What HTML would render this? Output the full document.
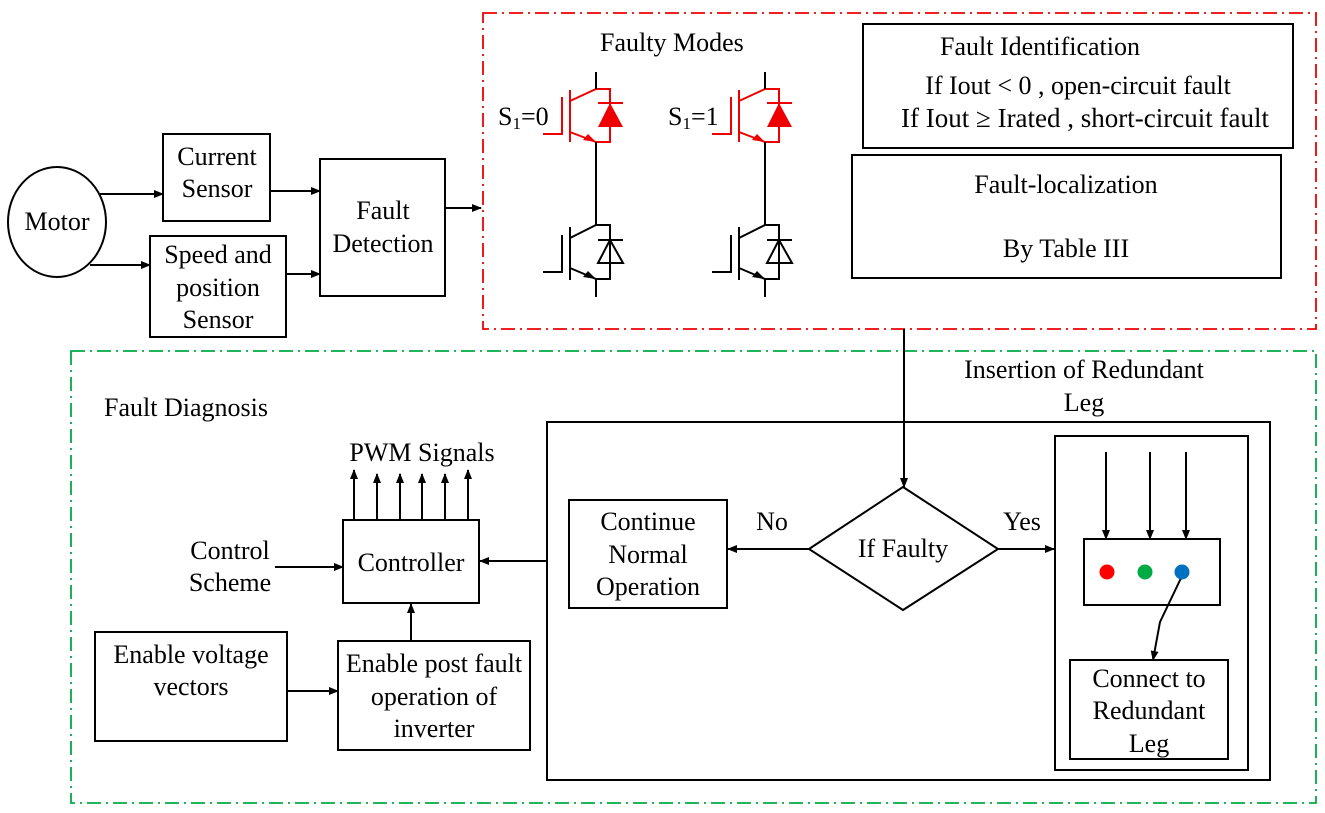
<!DOCTYPE html>
<html><head><style>
html,body{margin:0;padding:0;background:#fff;}
svg{display:block;}
text{font-family:"Liberation Serif",serif;fill:#000;}
</style></head><body>
<svg width="1325" height="813" viewBox="0 0 1325 813" xmlns="http://www.w3.org/2000/svg">
<defs>
<marker id="a" markerWidth="10" markerHeight="8" refX="9" refY="4" orient="auto" markerUnits="userSpaceOnUse">
<path d="M0,0 L10,4 L0,8 Z" fill="#000"/></marker>
</defs>
<rect x="483" y="13" width="833" height="316" fill="none" stroke="#e00" stroke-width="1.8" stroke-dasharray="14,5,2,5"/>
<rect x="71" y="351" width="1245" height="452" fill="none" stroke="#0a4" stroke-width="1.8" stroke-dasharray="14,5,2,5"/>

<g stroke="#000" stroke-width="2" fill="none">
<ellipse cx="57" cy="222" rx="49" ry="55"/>
<rect x="163" y="134" width="107" height="87"/>
<rect x="150" y="236" width="136" height="101"/>
<rect x="320" y="159" width="125" height="137"/>
<line x1="100" y1="194" x2="163" y2="194" marker-end="url(#a)"/>
<line x1="90" y1="265" x2="150" y2="265" marker-end="url(#a)"/>
<line x1="270" y1="191" x2="320" y2="191" marker-end="url(#a)"/>
<line x1="286" y1="274" x2="320" y2="274" marker-end="url(#a)"/>
<line x1="445" y1="208" x2="481" y2="208" marker-end="url(#a)"/>

<rect x="863" y="24" width="430" height="124"/>
<rect x="852" y="155" width="429" height="123"/>
<line x1="904" y1="329" x2="904" y2="487" marker-end="url(#a)"/>

<rect x="547" y="422" width="723" height="358"/>
<rect x="569" y="500" width="158" height="108"/>
<polygon points="809,549 903,487 998,549 903,610"/>
<line x1="809" y1="549" x2="728" y2="549" marker-end="url(#a)"/>
<line x1="998" y1="549" x2="1054" y2="549" marker-end="url(#a)"/>
<rect x="1055" y="436" width="193" height="334"/>
<rect x="1084" y="539" width="136" height="66"/>
<rect x="1070" y="660" width="158" height="99"/>
<line x1="1106" y1="452" x2="1106" y2="539" marker-end="url(#a)"/>
<line x1="1150" y1="452" x2="1150" y2="539" marker-end="url(#a)"/>
<line x1="1186" y1="452" x2="1186" y2="539" marker-end="url(#a)"/>
<polyline points="1182,576 1160,622 1153,660" marker-end="url(#a)"/>

<rect x="343" y="520" width="136" height="83"/>
<rect x="95" y="632" width="192" height="109"/>
<rect x="338" y="641" width="192" height="109"/>
<line x1="547" y1="561" x2="480" y2="561" marker-end="url(#a)"/>
<line x1="275" y1="567" x2="343" y2="567" marker-end="url(#a)"/>
<line x1="287" y1="691" x2="338" y2="691" marker-end="url(#a)"/>
<line x1="411" y1="641" x2="411" y2="604" marker-end="url(#a)"/>
<line x1="354" y1="520" x2="354" y2="470" marker-end="url(#a)"/>
<line x1="377" y1="520" x2="377" y2="474" marker-end="url(#a)"/>
<line x1="400" y1="520" x2="400" y2="474" marker-end="url(#a)"/>
<line x1="422" y1="520" x2="422" y2="474" marker-end="url(#a)"/>
<line x1="445" y1="520" x2="445" y2="474" marker-end="url(#a)"/>
<line x1="468" y1="520" x2="468" y2="470" marker-end="url(#a)"/>
</g>
<circle cx="1107" cy="572" r="7.5" fill="#f00"/>
<circle cx="1145" cy="572" r="7.5" fill="#0a4"/>
<circle cx="1182" cy="572" r="7.5" fill="#0070c0"/>

<g id="leg">
<g stroke="#e00" stroke-width="2" fill="none">
<polyline points="543,134 562,134 562,97"/>
<line x1="570" y1="90" x2="570" y2="142"/>
<polyline points="570,101 596,89 610,89 610,142 596,142 570,132"/>
<line x1="598" y1="103" x2="623" y2="103"/>
</g>
<polygon points="610,103 598,127 623,127" fill="#e00"/>
<polygon points="596,142 583,140 588,134" fill="#e00"/>
<line x1="596" y1="72" x2="596" y2="89" stroke="#000" stroke-width="2"/>
<line x1="596" y1="142" x2="596" y2="225" stroke="#000" stroke-width="2"/>
<g stroke="#000" stroke-width="2" fill="none">
<polyline points="543,272 562,272 562,235"/>
<line x1="570" y1="227" x2="570" y2="280"/>
<polyline points="570,238 596,225 610,225 610,279 596,279 570,268"/>
<line x1="598" y1="240" x2="623" y2="240"/>
<polygon points="610,240 598,263 623,263"/>
<line x1="596" y1="279" x2="596" y2="297"/>
</g>
<polygon points="596,279 583,277 588,271" fill="#000"/>
</g>
<use href="#leg" x="169" y="0"/>

<g font-size="26">
<text x="600" y="51">Faulty Modes</text>
<text x="498" y="125">S<tspan font-size="17" dy="4">1</tspan><tspan dy="-4">=0</tspan></text>
<text x="668" y="125">S<tspan font-size="17" dy="4">1</tspan><tspan dy="-4">=1</tspan></text>
<text x="940" y="55">Fault Identification</text>
<text x="1078" y="94" text-anchor="middle">If Iout &lt; 0 , open-circuit fault</text>
<text x="1085" y="127" text-anchor="middle" font-size="27">If Iout  ≥  Irated , short-circuit fault</text>
<text x="1066" y="193" text-anchor="middle">Fault-localization</text>
<text x="1066" y="257" text-anchor="middle">By Table III</text>
<text x="57" y="230" text-anchor="middle">Motor</text>
<text x="217" y="165" text-anchor="middle">Current</text>
<text x="217" y="197" text-anchor="middle">Sensor</text>
<text x="218" y="263" text-anchor="middle">Speed and</text>
<text x="218" y="296" text-anchor="middle">position</text>
<text x="218" y="328" text-anchor="middle">Sensor</text>
<text x="383" y="219" text-anchor="middle">Fault</text>
<text x="383" y="252" text-anchor="middle">Detection</text>
<text x="104" y="416">Fault Diagnosis</text>
<text x="1084" y="378" text-anchor="middle">Insertion of Redundant</text>
<text x="1084" y="411" text-anchor="middle">Leg</text>
<text x="422" y="461" text-anchor="middle">PWM Signals</text>
<text x="230" y="559" text-anchor="middle">Control</text>
<text x="230" y="591" text-anchor="middle">Scheme</text>
<text x="411" y="571" text-anchor="middle">Controller</text>
<text x="191" y="663" text-anchor="middle">Enable voltage</text>
<text x="191" y="695" text-anchor="middle">vectors</text>
<text x="434" y="672" text-anchor="middle">Enable post fault</text>
<text x="434" y="705" text-anchor="middle">operation of</text>
<text x="434" y="737" text-anchor="middle">inverter</text>
<text x="648" y="530" text-anchor="middle">Continue</text>
<text x="648" y="563" text-anchor="middle">Normal</text>
<text x="648" y="595" text-anchor="middle">Operation</text>
<text x="772" y="530" text-anchor="middle">No</text>
<text x="1022" y="530" text-anchor="middle">Yes</text>
<text x="903" y="557" text-anchor="middle">If Faulty</text>
<text x="1149" y="687" text-anchor="middle">Connect to</text>
<text x="1149" y="719" text-anchor="middle">Redundant</text>
<text x="1149" y="752" text-anchor="middle">Leg</text>
</g>
</svg>
</body></html>
